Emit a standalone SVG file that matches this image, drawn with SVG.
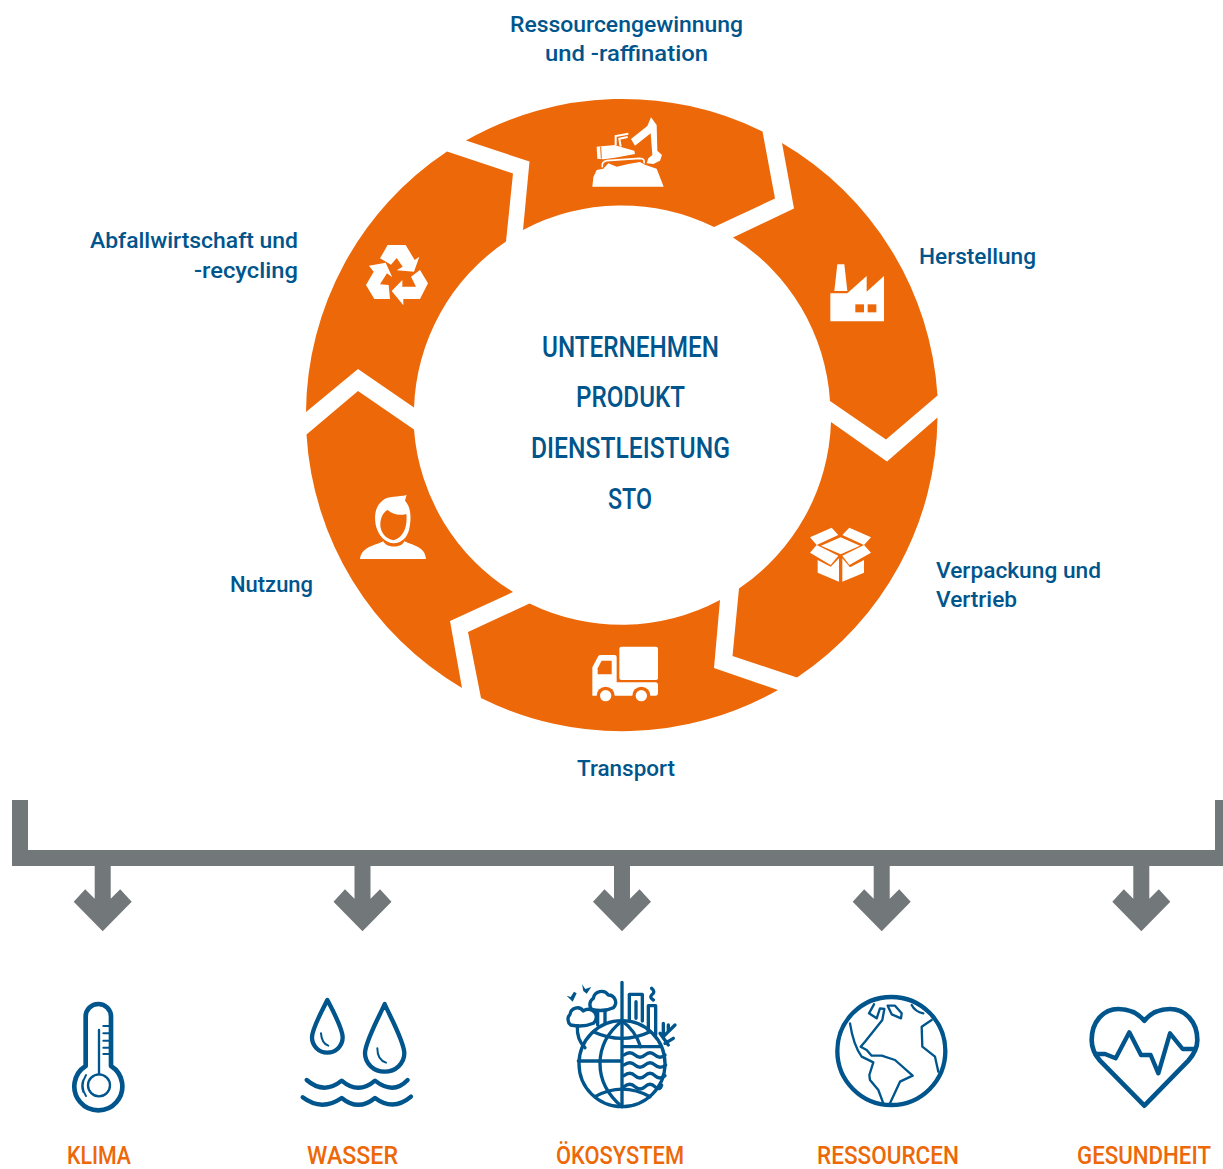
<svg xmlns="http://www.w3.org/2000/svg" width="1223" height="1169" viewBox="0 0 1223 1169">
<style>
text{font-family:"Roboto","Liberation Sans",sans-serif;font-weight:500}
.lab{font-size:22px;fill:#00558c}
.core{font-size:29px;fill:#00558c}
.imp{font-size:26.500px;fill:#ed6808}
.seg{fill:#ed6808}
.w{fill:#fff}
.o{fill:#ed6808}
.ln{fill:none;stroke:#00558c;stroke-linejoin:round;stroke-linecap:round}
.gr{fill:#72777a}
</style>
<defs>
<path id="arr" class="gr" d="M-8,866H8V898.7L17.500,889.3L29,901.7L0,931.3L-29,901.7L-17.500,889.3L-8,898.7Z"/>
</defs>
<rect width="1223" height="1169" fill="#fff"/>

<g id="connectors">
<path class="gr" d="M12,800H28V850H1215V800H1223V866H12Z"/>
<use href="#arr" x="102.7"/><use href="#arr" x="362.5"/><use href="#arr" x="622"/><use href="#arr" x="881.7"/><use href="#arr" x="1141.3"/>
</g>

<g id="node-ressourcen">
<path class="seg" d="M466,140.500A316,316 0 0 1 762.500,131.500L775,198.500L714,227A209,209 0 0 0 523,230L529.500,161.500Z"/>
<g transform="translate(440,90) scale(.33333)">
<path class="w" d="M457,290L460,262L470,240L490,236L505,220L530,230L565,222L600,216L615,224L650,236L660,262L671,290Z"/>
<path class="w" d="M573,147L622,108L633,82L650,105L652,182L666,195L660,212L640,222L620,220L625,205L637,195L632,130L585,167Z"/>
<path class="w" d="M470,170L525,165L540,170L583,182L585,192L525,203L490,208L472,206Z"/>
<path fill="none" stroke="#fff" stroke-width="6" d="M527,165V138L565,131M542,170L538,146L563,141"/>
<path fill="none" stroke="#ed6808" stroke-width="3" d="M482,170L484,206"/>
<path fill="none" stroke="#fff" stroke-width="5" d="M487,232Q484,215 500,212L600,205Q615,205 612,220"/>
</g>
<text class="lab" x="510" y="32" textLength="233" lengthAdjust="spacingAndGlyphs">Ressourcengewinnung</text>
<text class="lab" x="545" y="61" textLength="163" lengthAdjust="spacingAndGlyphs">und -raffination</text>
</g>

<g id="node-herstellung">
<path class="seg" d="M782,143A316,316 0 0 1 937.500,395.500L886,439.500L830,401A209,209 0 0 0 733,237.500L794,208.500Z"/>
<g transform="translate(810,250) scale(.33333)">
<path class="w" d="M61,130H112L170,78V125L222,78V214H61Z"/>
<path class="w" d="M82,43H103L112,123H73Z"/>
<rect class="o" x="136" y="163" width="26" height="24"/><rect class="o" x="173" y="163" width="26" height="24"/>
</g>
<text class="lab" x="919" y="264" textLength="117" lengthAdjust="spacingAndGlyphs">Herstellung</text>
</g>

<g id="node-verpackung">
<path class="seg" d="M937.500,417.500A316,316 0 0 1 797,677.500L732.500,656L739,588.500A209,209 0 0 0 831,422L887,461.500Z"/>
<g transform="translate(790,510) scale(.33333)" class="w">
<path d="M60,82L125,53L145,75L80,105Z"/><path d="M178,53L243,82L222,105L157,75Z"/>
<path d="M93,107L152,82L210,107L152,133Z"/>
<path d="M60,128L80,105L145,137L122,165Z"/><path d="M222,105L243,128L178,165L157,137Z"/>
<path d="M83,150L122,170L147,145V215L83,188Z"/><path d="M157,145L180,172L222,150V188L157,215Z"/>
</g>
<text class="lab" x="936" y="578" textLength="165" lengthAdjust="spacingAndGlyphs">Verpackung und</text>
<text class="lab" x="936" y="607" textLength="81" lengthAdjust="spacingAndGlyphs">Vertrieb</text>
</g>

<g id="node-transport">
<path class="seg" d="M778,690A316,316 0 0 1 481,698L468,632L529.500,603.500A209,209 0 0 0 720,600L714,668Z"/>
<g transform="translate(570,630) scale(.33333)">
<rect class="w" x="148" y="50" width="116" height="100" rx="6"/>
<path class="w" d="M67,112L85,78Q87,75 92,75H134Q140,75 140,81V157H256Q264,157 264,165V190Q264,197 256,197H67Z"/>
<path class="o" d="M95,92H125V133H83V115Z"/>
<circle class="o" cx="107" cy="197" r="27"/><circle class="o" cx="214" cy="197" r="27"/>
<circle class="w" cx="107" cy="197" r="17"/><circle class="w" cx="214" cy="197" r="17"/>
</g>
<text class="lab" x="577" y="776" textLength="98" lengthAdjust="spacingAndGlyphs">Transport</text>
</g>

<g id="node-nutzung">
<path class="seg" d="M462,688A316,316 0 0 1 306.500,434.500L358,391L414,429.500A209,209 0 0 0 513,592L450,621Z"/>
<g transform="translate(345,480) scale(.33333)">
<path class="w" d="M97,150C85,120 88,80 112,62C130,46 160,52 185,45C181,54 182,58 180,62C198,80 200,115 192,150C185,175 170,188 146,190C125,188 107,175 97,150Z"/>
<path class="o" d="M106,130C108,108 116,96 128,90C142,103 162,108 184,102C188,135 178,172 146,181C122,178 104,155 106,130Z"/>
<path class="w" d="M45,237C50,200 90,197 115,184C124,205 170,205 178,184C205,197 240,200 243,237Z"/>
</g>
<text class="lab" x="230" y="592" textLength="83" lengthAdjust="spacingAndGlyphs">Nutzung</text>
</g>

<g id="node-abfall">
<path class="seg" d="M447,151.500A316,316 0 0 0 306,412L358,369L414,407.500A209,209 0 0 1 506,241.500L513,173.500Z"/>
<g transform="translate(340,230) scale(.33333)" class="w">
<path d="M120,85L143,45H197L224,90L238,80L222,125L170,121L188,110L170,84L153,104Z"/>
<path d="M87,107L137,98L157,142L141,130L120,163L146,165L150,207H103L78,165L101,125Z"/>
<path d="M240,120L264,160L240,207H190V226L155,183L187,150V170H228L213,140Z"/>
</g>
<text class="lab" x="90" y="248" textLength="208" lengthAdjust="spacingAndGlyphs">Abfallwirtschaft und</text>
<text class="lab" x="194" y="278" textLength="104" lengthAdjust="spacingAndGlyphs">-recycling</text>
</g>

<g id="node-center">
<text class="core" x="542" y="357" textLength="177" lengthAdjust="spacingAndGlyphs">UNTERNEHMEN</text>
<text class="core" x="576" y="407" textLength="109" lengthAdjust="spacingAndGlyphs">PRODUKT</text>
<text class="core" x="531" y="458" textLength="199" lengthAdjust="spacingAndGlyphs">DIENSTLEISTUNG</text>
<text class="core" x="608" y="509" textLength="44" lengthAdjust="spacingAndGlyphs">STO</text>
</g>

<g id="impact-klima">
<g transform="translate(50,980) scale(.33333)">
<path class="ln" stroke-width="14" d="M107,258V110A38,38 0 0 1 183,110V258A72,72 0 1 1 107,258Z"/>
<circle class="ln" stroke-width="7" cx="147" cy="316" r="33"/>
<path class="ln" stroke-width="7" d="M147,150V283"/>
<path class="ln" stroke-width="6" stroke-linecap="butt" d="M160,138H178M160,160H178M160,182H178M160,203H178M160,222H178"/>
<path class="ln" stroke-width="6" d="M108,285Q88,318 108,348M100,300Q93,318 100,336"/>
</g>
<text class="imp" x="67" y="1164" textLength="64" lengthAdjust="spacingAndGlyphs">KLIMA</text>
</g>

<g id="impact-wasser">
<g transform="translate(50,980) scale(.33333)">
<path class="ln" stroke-width="13" d="M832,60C820,85 786,145 786,172A46,46 0 0 0 878,172C878,145 845,85 832,60Z"/>
<path class="ln" stroke-width="6" d="M813,160Q815,190 835,197"/>
<path class="ln" stroke-width="13" d="M1004,72C990,105 945,185 945,220A59,55 0 0 0 1063,220C1063,185 1018,105 1004,72Z"/>
<path class="ln" stroke-width="6" d="M982,205Q982,240 1008,248"/>
<path class="ln" stroke-width="13" d="M770,300Q822,345 875,302Q925,345 975,302Q1030,345 1073,300"/>
<path class="ln" stroke-width="13" d="M758,352Q815,395 875,354Q925,395 975,354Q1030,395 1083,350"/>
</g>
<text class="imp" x="307" y="1164" textLength="91" lengthAdjust="spacingAndGlyphs">WASSER</text>
</g>

<g id="impact-oekosystem">
<g transform="translate(550,975) scale(.33333)">
<g class="ln" stroke-width="10">
<circle cx="216" cy="266" r="129"/>
<path d="M216,22V395M85,258H216M222,215H330"/>
<path d="M130,170Q216,210 300,170M135,365Q216,320 300,365"/>
<path d="M216,138Q150,190 150,266Q150,340 216,395M216,138Q255,165 272,215"/>
<path d="M222,240Q240,226 255,240T285,240T315,240T345,240M222,270Q240,256 255,270T285,270T315,270T347,270M222,302Q240,288 255,302T285,302T315,302T345,302M222,335Q240,321 255,335T285,335T315,335T335,330"/>
<path d="M62,150A22,22 0 0 1 60,118A22,22 0 0 1 100,108A22,22 0 0 1 130,145Q100,158 62,150Z"/>
<path d="M82,152Q80,195 105,218"/>
<path d="M125,103A22,22 0 0 1 130,70A25,25 0 0 1 175,60A22,22 0 0 1 190,98Q160,112 125,103Z"/>
<path d="M143,108V150M165,108V145"/>
<path d="M238,138V58H277V138M258,80V130"/>
<path d="M295,170V92H317V180M305,40Q318,50 305,60Q298,68 310,75"/>
<path d="M340,145V190M375,150L340,185M330,175L355,210M345,205L370,190M355,150V170"/>
</g>
<path fill="#00558c" d="M50,62L62,66L72,50L80,55L68,80ZM96,28L106,42L124,36L110,56L100,48Z"/>
</g>
<text class="imp" x="556" y="1164" textLength="128" lengthAdjust="spacingAndGlyphs">ÖKOSYSTEM</text>
</g>

<g id="impact-ressourcen">
<g transform="translate(820,985) scale(.33333)">
<circle class="ln" stroke-width="13" cx="214" cy="198" r="162"/>
<g class="ln" stroke-width="7">
<path d="M162,58L147,85L170,100L180,70L193,72L187,105L135,170L122,185L140,195L155,212L185,212L225,225L278,272L240,290L210,355"/>
<path d="M90,115Q100,180 125,215L160,232L148,270L150,285L175,315L190,355"/>
<path d="M203,62L225,62L245,85L243,100L215,88Z"/>
<path d="M275,60Q285,80 310,85"/>
<path d="M335,105L305,125L307,185L345,215L355,260"/>
</g>
</g>
<text class="imp" x="817" y="1164" textLength="142" lengthAdjust="spacingAndGlyphs">RESSOURCEN</text>
</g>

<g id="impact-gesundheit">
<g transform="translate(1070,990) scale(.33333)">
<path class="ln" stroke-width="14" d="M223,92C200,65 175,57 145,57C100,57 65,95 65,150C65,175 75,195 90,212L223,347L355,212C370,195 382,175 382,150C382,95 345,57 300,57C270,57 245,65 223,92Z"/>
<path class="ln" stroke-width="13" d="M76,192H105L137,205L178,127L213,195H242L265,250L300,130L338,177H372"/>
</g>
<text class="imp" x="1077" y="1164" textLength="134" lengthAdjust="spacingAndGlyphs">GESUNDHEIT</text>
</g>
</svg>
